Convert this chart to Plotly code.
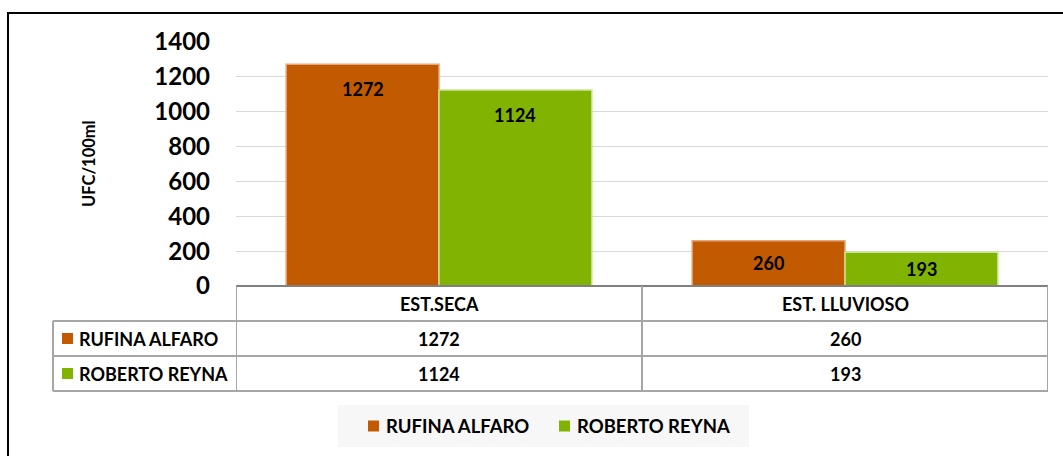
import plotly.graph_objects as go

categories = ["EST.SECA", "EST. LLUVIOSO"]
series_names = ["RUFINA ALFARO", "ROBERTO REYNA"]
rufina_values = [1272, 260]
roberto_values = [1124, 193]
y_ticks = [0, 200, 400, 600, 800, 1000, 1200, 1400]
y_title = "UFC/100ml"

series_values = [rufina_values, roberto_values]
colors = ["#C25A02", "#80B302"]
edge_colors = ["#E9A679", "#C9E68F"]

W, H = 1063, 456
L, R, T, B = 236, 15, 42, 170
PW = W - L - R
PH = H - T - B
YMAX = 1400
BARGAP = 0.247
FONT = "Lato, Carlito, Calibri, sans-serif"


def px(xp):
    return (xp - L) / PW


def py(yp):
    return (H - B - yp) / PH


def bold(size):
    return dict(family=FONT, size=size, color="#000", weight=700)


fig = go.Figure()
for name, vals, c, ec in zip(series_names, series_values, colors, edge_colors):
    fig.add_trace(go.Bar(
        name=name, x=categories, y=vals,
        marker=dict(color=c, line=dict(color=ec, width=1.5)),
        showlegend=False, hoverinfo="x+y+name",
    ))

annotations = []
shapes = []

# data labels inside bar tops
half = (1 - BARGAP) / 4
for s, vals in enumerate(series_values):
    for i, v in enumerate(vals):
        hpx = v * PH / YMAX
        annotations.append(dict(
            x=i + (-half if s == 0 else half), y=v, xref="x", yref="y",
            xanchor="center", yanchor="middle",
            text=str(v), showarrow=False, yshift=-min(25, hpx / 2),
            font=bold(18),
        ))

# y title
annotations.append(dict(
    x=px(89), y=py(164), xref="paper", yref="paper", text=y_title,
    xanchor="center", yanchor="middle",
    textangle=-90, showarrow=False, font=bold(16.5),
))

grid_col = "#A6A6A6"
# data table
row_edges = [286, 321, 356, 391]
shapes.append(dict(type="line", xref="x", yref="paper", x0=-0.5, x1=1.5,
                   y0=py(286), y1=py(286), line=dict(color="#808080", width=2)))
for yv in row_edges[1:]:
    shapes.append(dict(type="line", xref="paper", yref="paper", x0=px(53), x1=1,
                       y0=py(yv), y1=py(yv), line=dict(color=grid_col, width=2)))
for xv in [-0.5, 0.5, 1.5]:
    shapes.append(dict(type="line", xref="x", yref="paper", x0=xv, x1=xv,
                       y0=py(286), y1=py(391), line=dict(color=grid_col, width=2)))
shapes.append(dict(type="line", xref="paper", yref="paper", x0=px(53), x1=px(53),
                   y0=py(321), y1=py(391), line=dict(color=grid_col, width=2)))

for i, cat in enumerate(categories):
    annotations.append(dict(
        x=i, y=py(304), xref="x", yref="paper", text=cat, showarrow=False,
        xanchor="center", yanchor="middle", font=bold(18),
    ))
for s, (name, vals) in enumerate(zip(series_names, series_values)):
    yc = (row_edges[s + 1] + row_edges[s + 2]) / 2
    shapes.append(dict(type="rect", xref="paper", yref="paper",
                       x0=px(62), x1=px(73), y0=py(yc - 5.5), y1=py(yc + 5.5),
                       fillcolor=colors[s], line=dict(width=0)))
    annotations.append(dict(
        x=px(77), y=py(yc), xref="paper", yref="paper", text=name,
        xanchor="left", yanchor="middle", showarrow=False, font=bold(18),
    ))
    for i, v in enumerate(vals):
        annotations.append(dict(
            x=i, y=py(yc), xref="x", yref="paper", text=str(v), showarrow=False,
            xanchor="center", yanchor="middle", font=bold(18),
        ))

# legend box
shapes.append(dict(type="rect", xref="paper", yref="paper", x0=px(338), x1=px(749),
                   y0=py(405), y1=py(447), fillcolor="#F7F7F7", line=dict(width=0),
                   layer="below"))
leg_sw = [368, 559]
for s, name in enumerate(series_names):
    shapes.append(dict(type="rect", xref="paper", yref="paper",
                       x0=px(leg_sw[s]), x1=px(leg_sw[s] + 11), y0=py(420.5), y1=py(431.5),
                       fillcolor=colors[s], line=dict(width=0)))
    annotations.append(dict(
        x=px(leg_sw[s] + 16), y=py(426), xref="paper", yref="paper", text=name,
        xanchor="left", yanchor="middle", showarrow=False, font=bold(18.5),
    ))

# outer border
shapes.append(dict(type="rect", xref="paper", yref="paper", x0=px(8), x1=px(1075),
                   y0=py(13), y1=py(470), line=dict(color="#000", width=2),
                   fillcolor="rgba(0,0,0,0)"))

fig.update_layout(
    width=W, height=H,
    margin=dict(l=L, r=R, t=T, b=B),
    paper_bgcolor="white", plot_bgcolor="white",
    barmode="group", bargap=BARGAP, bargroupgap=0,
    xaxis=dict(showticklabels=False, showgrid=False, zeroline=False,
               range=[-0.5, 1.5], fixedrange=True),
    yaxis=dict(range=[0, YMAX], tickvals=y_ticks, showgrid=True,
               gridcolor="#D9D9D9", gridwidth=1, zeroline=False,
               showline=False, ticklabelstandoff=25, tickfont=bold(24)),
    annotations=annotations, shapes=shapes,
)

fig.write_html(
    "out.html",
    config={"displayModeBar": False},
    post_script="document.body.style.margin='0';document.body.style.overflow='hidden';",
)
